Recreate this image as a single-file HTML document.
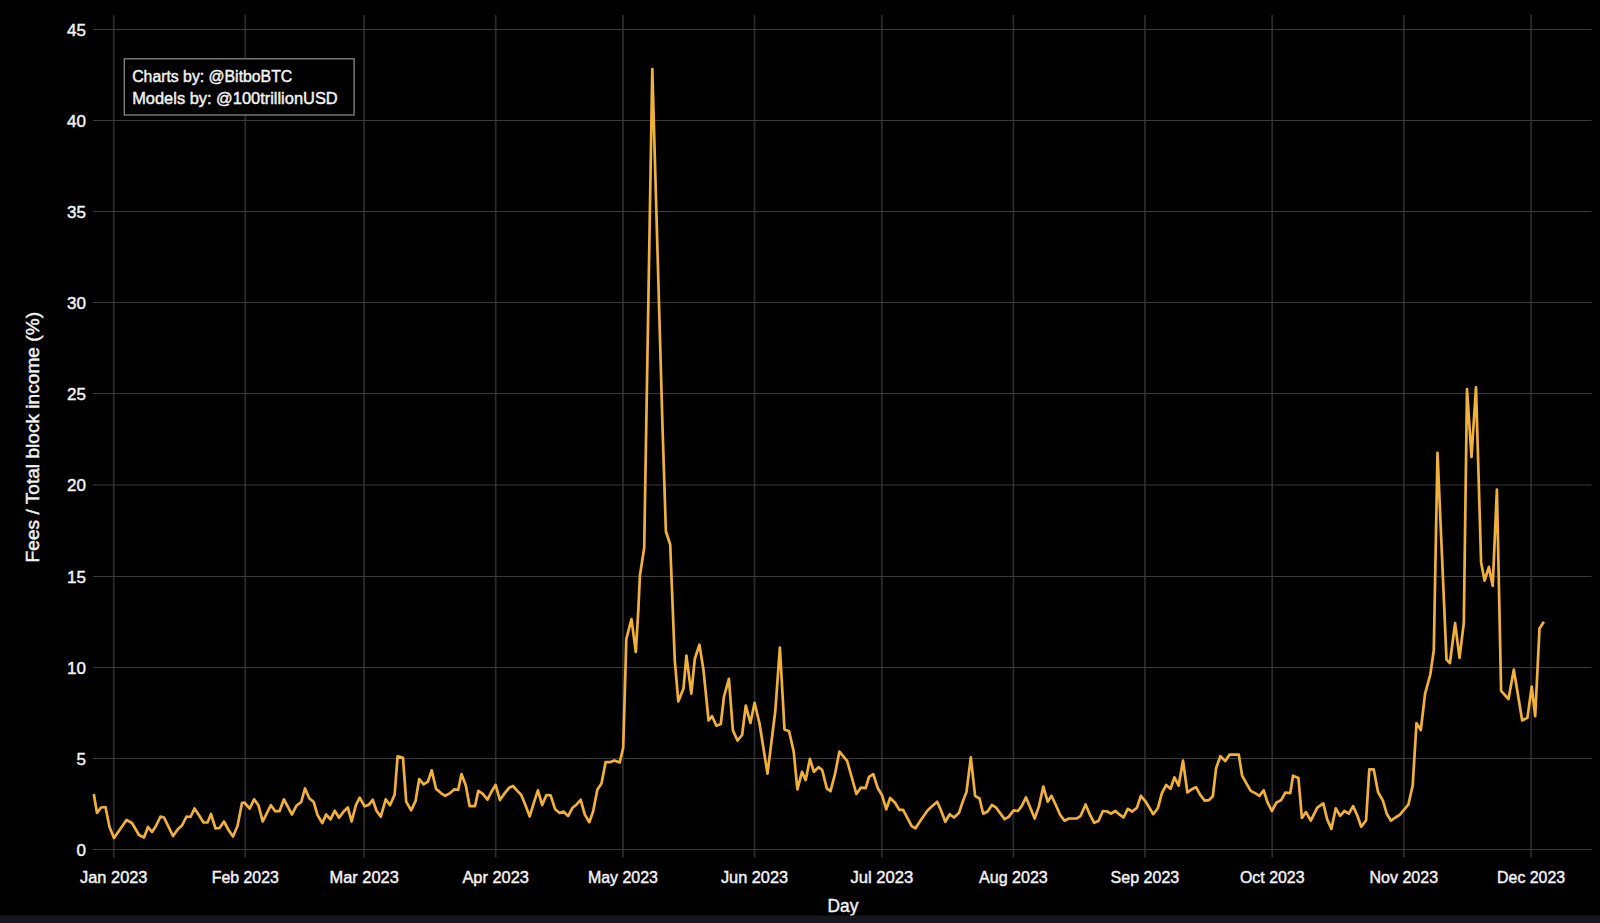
<!DOCTYPE html><html><head><meta charset="utf-8"><style>html,body{margin:0;padding:0;background:#000;width:1600px;height:923px;overflow:hidden}svg{display:block}text{font-family:"Liberation Sans",sans-serif;fill:#f2f2f2;stroke:#f2f2f2;stroke-width:0.45px}</style></head><body>
<svg width="1600" height="923" viewBox="0 0 1600 923">
<rect x="0" y="0" width="1600" height="923" fill="#000"/>
<line x1="113.75" y1="15" x2="113.75" y2="857.5" stroke="#2a2a2a" stroke-width="1.8"/>
<line x1="245.30" y1="15" x2="245.30" y2="857.5" stroke="#2a2a2a" stroke-width="1.8"/>
<line x1="364.12" y1="15" x2="364.12" y2="857.5" stroke="#2a2a2a" stroke-width="1.8"/>
<line x1="495.67" y1="15" x2="495.67" y2="857.5" stroke="#2a2a2a" stroke-width="1.8"/>
<line x1="622.98" y1="15" x2="622.98" y2="857.5" stroke="#2a2a2a" stroke-width="1.8"/>
<line x1="754.53" y1="15" x2="754.53" y2="857.5" stroke="#2a2a2a" stroke-width="1.8"/>
<line x1="881.84" y1="15" x2="881.84" y2="857.5" stroke="#2a2a2a" stroke-width="1.8"/>
<line x1="1013.39" y1="15" x2="1013.39" y2="857.5" stroke="#2a2a2a" stroke-width="1.8"/>
<line x1="1144.94" y1="15" x2="1144.94" y2="857.5" stroke="#2a2a2a" stroke-width="1.8"/>
<line x1="1272.25" y1="15" x2="1272.25" y2="857.5" stroke="#2a2a2a" stroke-width="1.8"/>
<line x1="1403.80" y1="15" x2="1403.80" y2="857.5" stroke="#2a2a2a" stroke-width="1.8"/>
<line x1="1531.11" y1="15" x2="1531.11" y2="857.5" stroke="#2a2a2a" stroke-width="1.8"/>
<line x1="93.0" y1="849.5" x2="1591.5" y2="849.5" stroke="#3a3a3a" stroke-width="1.1"/>
<line x1="93.0" y1="758.5" x2="1591.5" y2="758.5" stroke="#3a3a3a" stroke-width="1.1"/>
<line x1="93.0" y1="667.5" x2="1591.5" y2="667.5" stroke="#3a3a3a" stroke-width="1.1"/>
<line x1="93.0" y1="576.5" x2="1591.5" y2="576.5" stroke="#3a3a3a" stroke-width="1.1"/>
<line x1="93.0" y1="485.0" x2="1591.5" y2="485.0" stroke="#3a3a3a" stroke-width="1.1"/>
<line x1="93.0" y1="393.5" x2="1591.5" y2="393.5" stroke="#3a3a3a" stroke-width="1.1"/>
<line x1="93.0" y1="302.5" x2="1591.5" y2="302.5" stroke="#3a3a3a" stroke-width="1.1"/>
<line x1="93.0" y1="211.5" x2="1591.5" y2="211.5" stroke="#3a3a3a" stroke-width="1.1"/>
<line x1="93.0" y1="120.5" x2="1591.5" y2="120.5" stroke="#3a3a3a" stroke-width="1.1"/>
<line x1="93.0" y1="29.5" x2="1591.5" y2="29.5" stroke="#3a3a3a" stroke-width="1.1"/>
<text x="86" y="855.7" font-size="17" text-anchor="end">0</text>
<text x="86" y="764.7" font-size="17" text-anchor="end">5</text>
<text x="86" y="673.7" font-size="17" text-anchor="end">10</text>
<text x="86" y="582.7" font-size="17" text-anchor="end">15</text>
<text x="86" y="491.2" font-size="17" text-anchor="end">20</text>
<text x="86" y="399.7" font-size="17" text-anchor="end">25</text>
<text x="86" y="308.7" font-size="17" text-anchor="end">30</text>
<text x="86" y="217.7" font-size="17" text-anchor="end">35</text>
<text x="86" y="126.7" font-size="17" text-anchor="end">40</text>
<text x="86" y="35.7" font-size="17" text-anchor="end">45</text>
<text x="80.00" y="883.4" font-size="16.6" textLength="67.5" lengthAdjust="spacingAndGlyphs">Jan 2023</text>
<text x="211.70" y="883.4" font-size="16.6" textLength="67.2" lengthAdjust="spacingAndGlyphs">Feb 2023</text>
<text x="329.47" y="883.4" font-size="16.6" textLength="69.3" lengthAdjust="spacingAndGlyphs">Mar 2023</text>
<text x="462.42" y="883.4" font-size="16.6" textLength="66.5" lengthAdjust="spacingAndGlyphs">Apr 2023</text>
<text x="587.98" y="883.4" font-size="16.6" textLength="70" lengthAdjust="spacingAndGlyphs">May 2023</text>
<text x="720.93" y="883.4" font-size="16.6" textLength="67.2" lengthAdjust="spacingAndGlyphs">Jun 2023</text>
<text x="850.44" y="883.4" font-size="16.6" textLength="62.8" lengthAdjust="spacingAndGlyphs">Jul 2023</text>
<text x="978.99" y="883.4" font-size="16.6" textLength="68.8" lengthAdjust="spacingAndGlyphs">Aug 2023</text>
<text x="1110.59" y="883.4" font-size="16.6" textLength="68.7" lengthAdjust="spacingAndGlyphs">Sep 2023</text>
<text x="1240.00" y="883.4" font-size="16.6" textLength="64.5" lengthAdjust="spacingAndGlyphs">Oct 2023</text>
<text x="1369.55" y="883.4" font-size="16.6" textLength="68.5" lengthAdjust="spacingAndGlyphs">Nov 2023</text>
<text x="1497.11" y="883.4" font-size="16.6" textLength="68" lengthAdjust="spacingAndGlyphs">Dec 2023</text>
<rect x="124.3" y="58.8" width="229.8" height="56.2" fill="#000" stroke="#7c7c7c" stroke-width="1.4"/>
<text x="132.2" y="82" font-size="16" textLength="160" lengthAdjust="spacingAndGlyphs">Charts by: @BitboBTC</text>
<text x="132.2" y="103.9" font-size="16" textLength="205.5" lengthAdjust="spacingAndGlyphs">Models by: @100trillionUSD</text>
<text x="827.6" y="911.9" font-size="18.6" textLength="30.8" lengthAdjust="spacingAndGlyphs">Day</text>
<text transform="translate(38.8,562.4) rotate(-90)" x="0" y="0" font-size="18.4" textLength="250.4" lengthAdjust="spacingAndGlyphs">Fees / Total block income (%)</text>
<polyline points="93.8,794 97,813 101,807.5 105.5,807 109.5,827 114,838 126.5,820 132,823 139,835 144,837.5 148,827 152,832 156,826 160.5,816.5 164,817.5 173,836 178,829 182,825.5 186.5,816.5 190.5,817 194.5,808.5 199.5,816 203.5,822.5 207.5,822.5 211,814 215.5,828.5 219.5,828 224,821.5 228.5,830 233,836.5 237.5,826 242,803 244.3,802.5 249.7,808.5 254.1,799.3 258.4,805.2 262.7,821.5 270.9,805.2 275.2,811.2 279.5,811.2 283.9,799.3 292,814.5 296.3,805.8 301.2,802 305,788.5 309.3,798.2 313.7,802 317.5,815 322.3,823.1 326.1,814.5 330.5,819.3 334.8,810.7 339.1,817.7 343.5,811.7 347.8,807.4 351.6,821.5 355.9,805.2 359.7,797.7 364.6,806.3 368.9,804.7 372.7,799.8 376.5,810.7 380.8,816.6 385.7,799.3 390,805.2 394.6,794.8 397.6,756.3 403,757.9 406.2,801.7 411.1,810.4 415.5,801.2 419.2,779 423.6,784.4 427.9,781.7 431.7,770.3 436,788.7 440.9,793.1 445.2,795.8 450.1,793.1 454.5,789.3 458.2,789.8 461.5,774.1 465.8,785.5 469.6,806.1 475,806.1 478.3,790.9 482.6,793.6 487.5,799.6 491.3,792 495.6,785 500,800.1 504.8,793.1 509.2,787.7 513,786 517.3,790.9 521.1,794.7 525.4,805 529.7,816.4 533.5,803.9 537.9,790.4 542.2,805 546.4,795 550.6,795.3 555.2,809.3 559.7,813 563.5,811.5 568.1,816.1 572.6,807.7 576.4,804.7 580.7,799.8 584.8,814.6 589.3,822.2 593.1,811.5 597.4,789.5 601.5,783.5 605.6,762.2 609.8,762.2 614.4,760.4 619.7,762.5 623.2,747.8 624.5,704 626.3,639 631.5,619.1 635.8,652 638.4,608.7 639.9,575.8 644.2,547.7 652.3,69 662.6,430 665.9,531.5 670.2,544.5 674.8,660.7 678.3,701.4 683.5,688.4 686.4,655.5 691.3,693.6 694.8,659 699.4,644.7 703.4,669.4 708.6,720.5 712.1,716.2 716.4,725.7 720.8,724 724,696.5 728.9,678.9 732.9,730.4 737.5,740.5 742.1,735 745.8,705.5 750.4,723 754.6,702.8 759.6,724 767.5,773.7 775.3,711 779.9,647.5 784.5,729.5 789.1,731.3 793.7,751.6 797.4,789.3 802,771.8 805.7,780.1 809.9,758.9 813.9,771.8 818.5,767.2 822.2,770 826.8,788.4 830.5,791.2 835.1,773.7 839.4,751.6 847.1,760.8 856.4,794 860.8,787.7 865.7,788.2 869,776.8 873.3,774.1 877.6,787.7 882,795.2 886.3,809.3 890.1,798 895,802.8 899.3,809.9 903.1,809.9 908,819.1 911.7,826.1 915.5,828.3 920.4,820.7 927.5,810.4 932.3,806.1 937.2,801.7 941,810.4 945.3,821.8 949.7,814.2 954,817.5 958.9,813.1 962.7,801.7 966.5,792 970.8,757.3 975.1,795.8 979.5,798.5 983.2,813.7 987.6,811.5 991.9,805 996.2,807.7 1004.6,819.1 1008.7,816.9 1013.5,810.4 1017.9,811 1021.7,806.1 1026,797.4 1030.3,807.7 1034.7,818.5 1039,806.1 1043.3,786.6 1047.7,801.7 1051.5,795.8 1055.8,805 1060.1,814.7 1064.5,820.7 1068.8,818.5 1076.9,818.5 1080.7,815.8 1085.6,804.5 1089.9,814.7 1094.2,822.9 1098.6,820.7 1102.9,811 1107.2,811.5 1111,813.7 1115.4,811 1119.7,814.7 1123.5,817.5 1127.8,808.8 1132.2,811.5 1137,807.7 1140.8,795.8 1145.7,801.7 1153.3,814.2 1157.8,808.3 1161.9,793.1 1166.2,785 1170.6,788.7 1174.4,777.4 1178.7,785.5 1183,760.6 1187.4,792.5 1191.7,789.3 1196,787.1 1200.4,795.2 1204.7,800.7 1209,800.1 1212.8,796.3 1216.1,768.2 1220.4,756.2 1225.3,761.1 1229.6,754.6 1238.8,754.6 1242.1,775.7 1246.4,783.3 1250.7,790.9 1255.1,793.1 1259.4,795.8 1263.7,790.4 1267.5,802.3 1271.9,811 1276.2,802.8 1281.1,800.1 1285.4,792.5 1290.3,793.1 1293,775.7 1298.4,777.9 1301.9,818 1306,812.1 1310.8,820.7 1317.3,807.7 1323.3,803.4 1327.1,819.1 1331.4,828.9 1335.8,808.3 1340.1,815.8 1344.4,811 1348.8,813.7 1353.1,806.1 1357.4,815.8 1361.2,826.7 1366.1,820.2 1369.3,769.3 1373.7,769.3 1378,792 1382.9,800.7 1386.7,813.7 1391,820.7 1395.4,817.5 1399.7,814.8 1408.4,804.5 1412.7,785.5 1416.5,723.1 1420.8,730 1425.1,693.6 1430.3,674.5 1433.8,650.3 1437.5,452.8 1446.5,659.6 1449.9,663 1455.1,623.2 1459.5,657.9 1463.8,623.2 1467,389 1471.5,457 1476,387.3 1481.1,562.5 1484.6,580.7 1488.9,566.9 1492.7,585.9 1496.9,489.5 1501.1,690.8 1508.5,699 1513.8,669.7 1522.2,720.5 1527.4,717.9 1531.7,686.7 1535.2,716.1 1539.5,628.6 1543.9,621.7" fill="none" stroke="#f0b03c" stroke-width="2.7" stroke-linejoin="round" stroke-linecap="butt"/>
<rect x="0" y="915.5" width="1600" height="7.5" fill="#16171c"/>
</svg></body></html>
